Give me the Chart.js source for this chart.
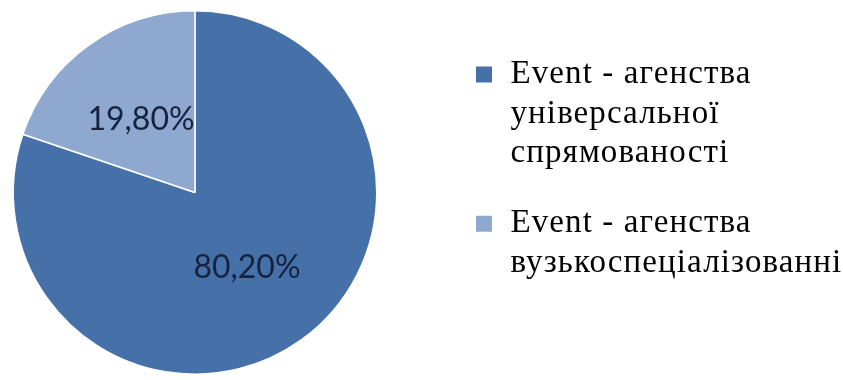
<!DOCTYPE html>
<html>
<head>
<meta charset="utf-8">
<script src="https://cdn.jsdelivr.net/npm/chart.js@4/dist/chart.umd.min.js"></script>
<style>
  html, body { margin: 0; padding: 0; background: #fff; }
  #wrap { width: 843px; height: 380px; }
</style>
</head>
<body>
<div id="wrap"><canvas id="pieChart"></canvas></div>
<script>
const categories = [
  ["Event - агенства", "універсальної", "спрямованості"],
  ["Event - агенства", "вузькоспеціалізованні"]
];
const shares = [80.2, 19.8];
const sliceColors = ["#4671a8", "#8fa8d0"];

function formatShare(v) {
  return v.toFixed(2).replace(".", ",") + "%";
}

// percent labels in the middle of each slice
const valueLabels = {
  id: "valueLabels",
  beforeDraw(chart) {
    // the legend text in the original is a bit wider than Liberation Serif
    chart.ctx.letterSpacing = "1.1px";
  },
  beforeDatasetsDraw(chart) {
    chart.ctx.letterSpacing = "0px";
  },
  afterDatasetsDraw(chart) {
    const ctx = chart.ctx;
    const meta = chart.getDatasetMeta(0);
    ctx.save();
    ctx.font = "32px Lato";
    ctx.fillStyle = "#15233f";
    ctx.textAlign = "center";
    ctx.textBaseline = "middle";
    meta.data.forEach((arc, i) => {
      const p = arc.tooltipPosition();
      ctx.fillText(formatShare(shares[i]), p.x - 1, p.y + 1.5);
    });
    ctx.restore();
  }
};

// pie on the left, legend column on the right like the office chart
const placeBoxes = {
  id: "placeBoxes",
  afterLayout(chart) {
    const area = chart.chartArea;
    area.left = 12.5;
    area.right = 377.5;
    area.top = 10;
    area.bottom = 375;
    area.width = area.right - area.left;
    area.height = area.bottom - area.top;

    const legend = chart.legend;
    legend.left = 443.5;
    legend.top = 27.5;
    legend.right = chart.width;
    legend.bottom = chart.height;
    legend.width = legend.right - legend.left;
    legend.height = legend.bottom - legend.top;
  }
};

const ctx = document.getElementById("pieChart").getContext("2d");
new Chart(ctx, {
  type: "pie",
  data: {
    labels: categories,
    datasets: [{
      data: shares,
      backgroundColor: sliceColors,
      borderColor: "#ffffff",
      borderWidth: 1.5
    }]
  },
  options: {
    responsive: true,
    maintainAspectRatio: false,
    animation: false,
    plugins: {
      tooltip: { enabled: false },
      legend: {
        position: "right",
        align: "start",
        labels: {
          color: "#1a1a1a",
          font: { family: "Liberation Serif", size: 33, lineHeight: 1.2 },
          boxWidth: 20,
          boxHeight: 20,
          padding: 30.5,
          generateLabels(chart) {
            return categories.map((text, i) => ({
              text: text,
              fillStyle: sliceColors[i],
              strokeStyle: "#ffffff",
              lineWidth: 4,
              hidden: false,
              index: i
            }));
          }
        }
      }
    }
  },
  plugins: [valueLabels, placeBoxes]
});
</script>
</body>
</html>
